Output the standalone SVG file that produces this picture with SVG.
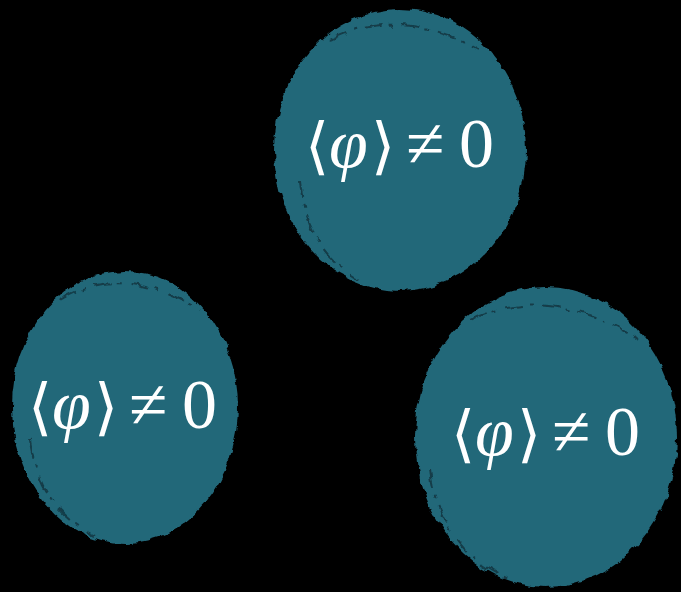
<svg xmlns="http://www.w3.org/2000/svg" width="681" height="592" viewBox="0 0 681 592">
<style>
.blob{fill:#246779;filter:url(#rough)}
.edge{fill:none;stroke:#123641;stroke-width:2;stroke-dasharray:18 6 4 9;opacity:0.85;filter:url(#rough)}
.lbl{font-family:"Liberation Serif","Times New Roman",serif;font-size:70px;fill:#ffffff}
.br{font-family:"DejaVu Serif",serif;font-size:62px}
.phi{font-style:italic}
</style>
<defs>
<filter id="rough" x="-10%" y="-10%" width="120%" height="120%">
<feTurbulence type="fractalNoise" baseFrequency="0.08" numOctaves="3" seed="4" result="n"/>
<feDisplacementMap in="SourceGraphic" in2="n" scale="7" xChannelSelector="R" yChannelSelector="G"/>
</filter>
</defs>
<rect width="681" height="592" fill="#000000"/>
<g id="node-top">
<ellipse class="blob" cx="400" cy="150" rx="126" ry="141"/>
<path class="edge" d="M330 40 Q400 5 480 50"/>
<path class="edge" d="M300 180 Q305 250 360 280"/>
<text class="lbl" y="167"><tspan class="br" x="305">⟨</tspan><tspan class="phi" x="329">φ</tspan><tspan class="br" x="371">⟩</tspan><tspan x="406">≠</tspan><tspan x="459">0</tspan></text>
</g>
<g id="node-left">
<ellipse class="blob" cx="125" cy="407" rx="113" ry="136"/>
<path class="edge" d="M60 300 Q120 262 200 310"/>
<path class="edge" d="M30 440 Q40 510 95 535"/>
<text class="lbl" y="428"><tspan class="br" x="28">⟨</tspan><tspan class="phi" x="52">φ</tspan><tspan class="br" x="94">⟩</tspan><tspan x="129">≠</tspan><tspan x="182">0</tspan></text>
</g>
<g id="node-right">
<ellipse class="blob" cx="546" cy="437" rx="131" ry="150"/>
<path class="edge" d="M470 320 Q550 283 640 340"/>
<path class="edge" d="M430 470 Q440 550 510 580"/>
<text class="lbl" y="455"><tspan class="br" x="451">⟨</tspan><tspan class="phi" x="475">φ</tspan><tspan class="br" x="517">⟩</tspan><tspan x="552">≠</tspan><tspan x="605">0</tspan></text>
</g>
<g id="connectors"></g>
</svg>
